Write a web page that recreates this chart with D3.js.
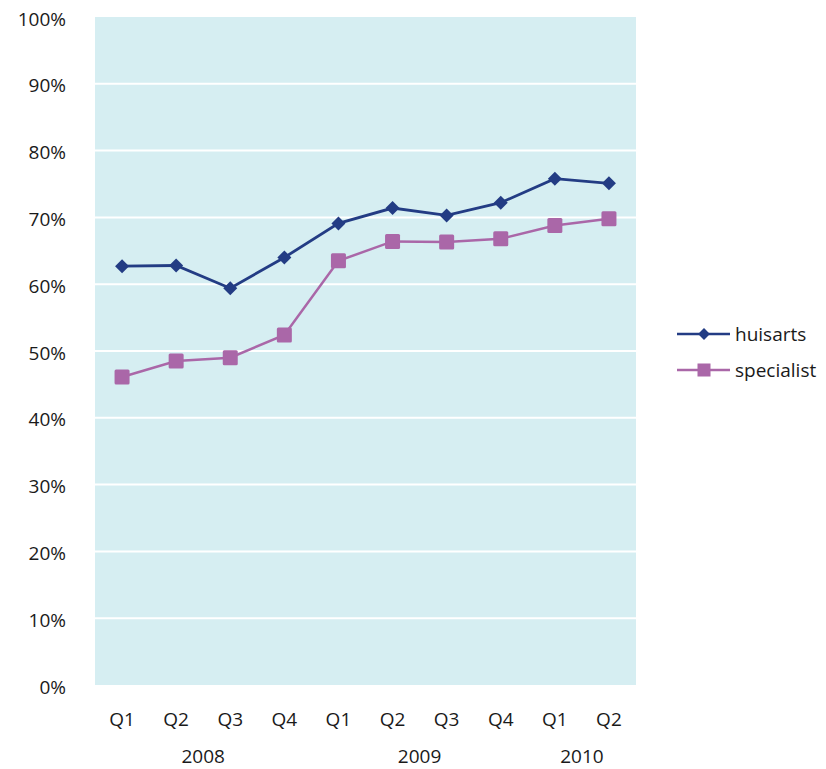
<!DOCTYPE html>
<html><head><meta charset="utf-8">
<script src="https://cdn.jsdelivr.net/npm/d3@7"></script>
<style>body{margin:0;background:#fff;} text{font-family:"Open Sans",sans-serif;fill:#1a1a1a;}</style>
</head><body><svg id="c" width="826" height="769"></svg>
<script>
const quarters = ["Q1","Q2","Q3","Q4","Q1","Q2","Q3","Q4","Q1","Q2"];
const years = [{label:"2008", from:0, to:3},{label:"2009", from:4, to:7},{label:"2010", from:8, to:9}];
const huisarts = [62.7, 62.8, 59.4, 64.0, 69.1, 71.4, 70.3, 72.2, 75.8, 75.1];
const specialist = [46.1, 48.5, 49.0, 52.4, 63.5, 66.4, 66.3, 66.8, 68.8, 69.8];
const yTicks = [0,10,20,30,40,50,60,70,80,90,100];
const seriesNames = ["huisarts","specialist"];

const svg = d3.select("#c");
const L=95, R=636, T=17, B=685;
const x = d3.scaleBand().domain(d3.range(quarters.length)).range([L,R]);
const y = d3.scaleLinear().domain([0,100]).range([B,T]);
const navy="#233c84", purple="#aa67a8";
const fs = 19;

svg.append("rect").attr("x",L).attr("y",T).attr("width",R-L).attr("height",B-T).attr("fill","#d6eef2");
svg.selectAll("line.g").data(yTicks.filter(d=>d>0&&d<100)).enter().append("line")
  .attr("x1",L).attr("x2",R).attr("y1",d=>y(d)).attr("y2",d=>y(d))
  .attr("stroke","#fff").attr("stroke-width",2);

svg.selectAll("text.yt").data(yTicks).enter().append("text")
  .attr("x",66).attr("y",d=>y(d)+8.5).attr("text-anchor","end").attr("font-size",fs).text(d=>d+"%");

svg.selectAll("text.q").data(quarters).enter().append("text")
  .attr("x",(d,i)=>x(i)+x.bandwidth()/2).attr("y",726).attr("text-anchor","middle").attr("font-size",fs).text(d=>d);
svg.selectAll("text.yr").data(years).enter().append("text")
  .attr("x",d=>(x(d.from)+x(d.to)+x.bandwidth())/2).attr("y",763).attr("text-anchor","middle").attr("font-size",fs).text(d=>d.label);

const cx = i=>x(i)+x.bandwidth()/2;
const line = d3.line().x((d,i)=>cx(i)).y(d=>y(d));
svg.append("path").attr("d",line(specialist)).attr("fill","none").attr("stroke",purple).attr("stroke-width",2.5);
svg.append("path").attr("d",line(huisarts)).attr("fill","none").attr("stroke",navy).attr("stroke-width",2.8);
const diamond = d3.symbol().type(d3.symbolDiamond2).size(125);
svg.selectAll("rect.sq").data(specialist).enter().append("rect")
  .attr("x",(d,i)=>cx(i)-7.5).attr("y",d=>y(d)-7.5).attr("width",15).attr("height",15).attr("rx",1.5).attr("fill",purple);
svg.selectAll("path.dm").data(huisarts).enter().append("path")
  .attr("d",diamond).attr("transform",(d,i)=>`translate(${cx(i)},${y(d)})`).attr("fill",navy);

// legend
const lg = [{name:seriesNames[0],color:navy,y:334,shape:"d"},{name:seriesNames[1],color:purple,y:370,shape:"s"}];
lg.forEach(l=>{
  svg.append("line").attr("x1",677).attr("x2",730).attr("y1",l.y).attr("y2",l.y).attr("stroke",l.color).attr("stroke-width",2.5);
  if(l.shape==="d") svg.append("path").attr("d",d3.symbol().type(d3.symbolDiamond2).size(90)).attr("transform",`translate(704,${l.y})`).attr("fill",l.color);
  else svg.append("rect").attr("x",697.5).attr("y",l.y-6.5).attr("width",13).attr("height",13).attr("fill",l.color);
  svg.append("text").attr("x",735).attr("y",l.y+7).attr("font-size",fs).text(l.name);
});
</script></body></html>
